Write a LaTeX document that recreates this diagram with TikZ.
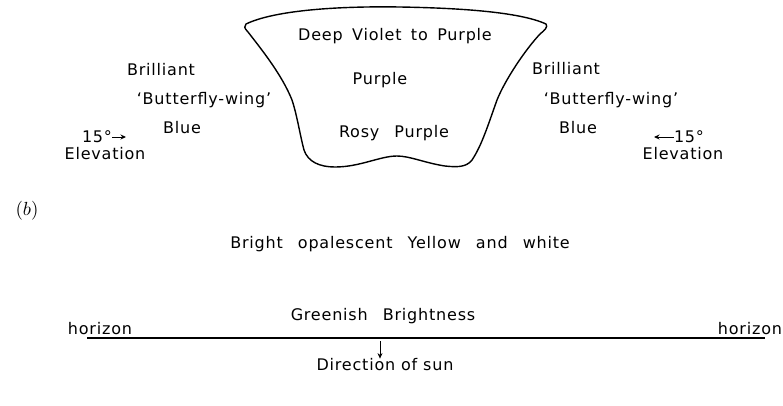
\documentclass[tikz,border=0pt]{standalone}
\usepackage{fontspec}
\setmainfont{DejaVu Sans}[LetterSpace=5]
\newfontfamily\widefont{DejaVu Sans}[WordSpace=2.6,LetterSpace=5]
\newfontfamily\midfont{DejaVu Sans}[WordSpace=1.6,LetterSpace=5]
\usetikzlibrary{arrows.meta}
\tikzset{
  lbl/.style={font=\fontsize{16}{19}\selectfont, inner sep=0pt, anchor=center},
  midlbl/.style={font=\midfont\fontsize{16}{19}\selectfont, inner sep=0pt, anchor=center},
  widelbl/.style={font=\widefont\fontsize{16}{19}\selectfont, inner sep=0pt, anchor=center},
  outline/.style={line width=1.4pt, line join=round},
  arr/.style={line width=0.9pt, -{Stealth[length=5.5pt,width=5pt]}},
}
\begin{document}
\begin{tikzpicture}[x=1pt,y=-1pt]
\useasboundingbox (0,0) rectangle (783,405);
% bowl
\draw[outline] (246,24) .. controls (275,10) and (340,6) .. (400,7)
  .. controls (460,8) and (520,12) .. (546,24)
  .. controls (548,27) and (545,30) .. (540,34)
  .. controls (525,50) and (505,80) .. (497,100)
  .. controls (488,125) and (482,145) .. (472,160)
  .. controls (466,168) and (455,167) .. (445,166)
  .. controls (425,163) and (410,156) .. (397,156)
  .. controls (380,156) and (360,167) .. (335,167)
  .. controls (320,167) and (308,162) .. (304,150)
  .. controls (300,135) and (297,115) .. (292,100)
  .. controls (282,75) and (262,50) .. (248,32)
  .. controls (244,28) and (244,26) .. cycle;
\node[midlbl] (deep) at (395,36) {Deep Violet to Purple};
\node[lbl] (purple) at (380,80) {Purple};
\node[widelbl] (rosy) at (394,133) {Rosy Purple};
% left side
\node[lbl] (bl1) at (161,70) {Brilliant};
\node[lbl] (bl2) at (204,100) {‘Butterfly-wing’};
\node[lbl] (bl3) at (182,128) {Blue};
\node[lbl] (l15) at (97,137) {15°};
\coordinate (l15e) at (126,137);
\draw[arr] (l15.east) -- (l15e);
\node[lbl] (lel) at (105,154) {Elevation};
% right side
\node[lbl] (br1) at (566,69) {Brilliant};
\node[lbl] (br2) at (611,100) {‘Butterfly-wing’};
\node[lbl] (br3) at (578,128) {Blue};
\node[lbl] (r15) at (689,137) {15°};
\coordinate (r15e) at (654,137);
\draw[arr] (r15.west) -- (r15e);
\node[lbl] (rel) at (683,154) {Elevation};
% (b)
\node[inner sep=0pt] (b) at (27,211) {\scalebox{1.9}{$(b)$}};
% lower texts
\node[widelbl] (bright) at (400,244) {Bright opalescent Yellow and white};
\node[widelbl] (green) at (383,316) {Greenish Brightness};
\node[lbl] (hl) at (100,329) {horizon};
\node[lbl] (hr) at (750,329) {horizon};
\coordinate (h1) at (87,338);
\coordinate (h2) at (765,338);
\draw[line width=1.8pt] (h1) -- (h2);
\coordinate (sunstart) at (380,341);
\node[lbl] (sun) at (385,365) {Direction of sun};
\draw[arr] (sunstart) -- (sunstart |- sun.north);
\end{tikzpicture}
\end{document}
